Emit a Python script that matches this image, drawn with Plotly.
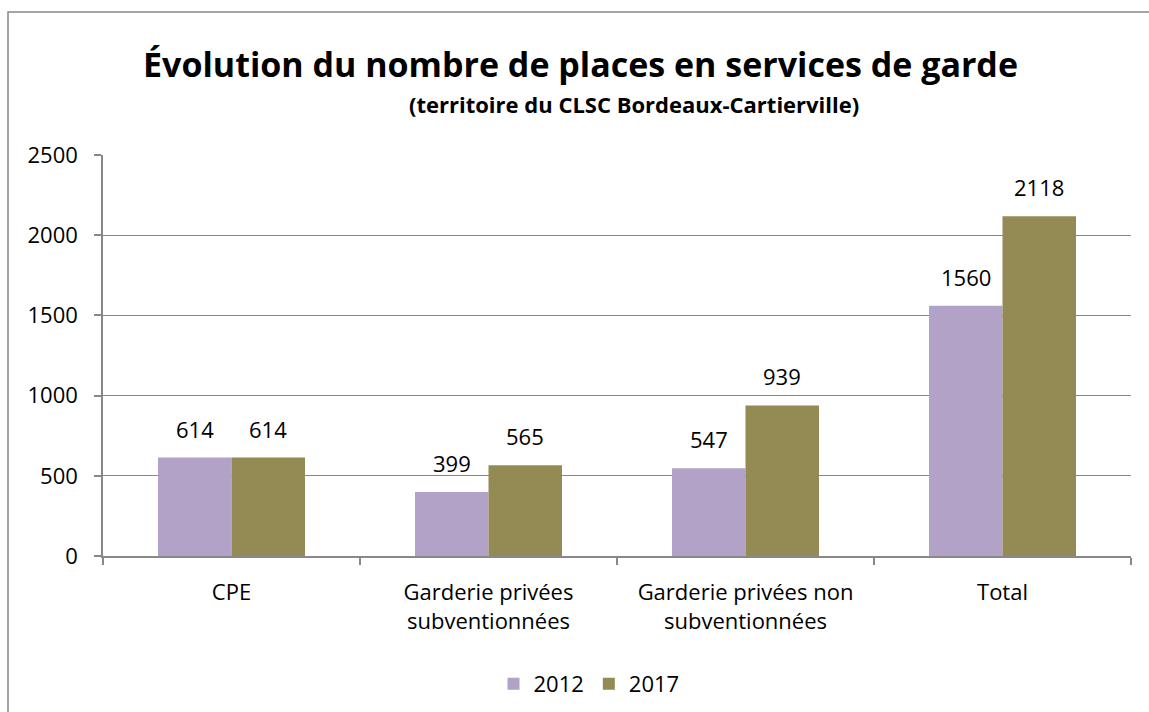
import plotly.graph_objects as go

categories = ["CPE", "Garderie privées<br>subventionnées", "Garderie privées non<br>subventionnées", "Total"]
series_names = ["2012", "2017"]
values_2012 = [614, 399, 547, 1560]
values_2017 = [614, 565, 939, 2118]
y_ticks = [0, 500, 1000, 1500, 2000, 2500]

colors = ["#B3A2C7", "#948A54"]
FONT = "Open Sans, Noto Sans, Liberation Sans, sans-serif"

W, H = 1149, 712
L, R, T, B = 103, 18, 155, 156
pw = W - L - R
ph = H - T - B
BARGAP = 0.428
bar_px = pw / len(categories) * (1 - BARGAP) / 2

def px_x(x):
    return (x - L) / pw

def px_y(y):
    return (H - B - y) / ph

fig = go.Figure()
annotations = []
for i, (name, vals, col) in enumerate(zip(series_names, [values_2012, values_2017], colors)):
    fig.add_trace(go.Bar(
        name=name, x=categories, y=vals, marker_color=col,
        marker_line_width=0,
    ))
    shift = (i - 0.5) * bar_px
    for c, v in zip(categories, vals):
        annotations.append(dict(
            x=c, y=v, xref="x", yref="y", text=str(v), showarrow=False,
            xanchor="center", yanchor="bottom", xshift=shift, yshift=12,
            font=dict(size=22, color="#000000", family=FONT),
        ))

annotations += [
    dict(text="<b>Évolution du nombre de places en services de garde</b>",
         x=px_x(580), y=px_y(64), xref="paper", yref="paper", xanchor="center", yanchor="middle",
         showarrow=False, font=dict(size=34, family=FONT)),
    dict(text="<b>(territoire du CLSC Bordeaux-Cartierville)</b>",
         x=px_x(634), y=px_y(104), xref="paper", yref="paper", xanchor="center", yanchor="middle",
         showarrow=False, font=dict(size=22, family=FONT)),
]

fig.update_layout(
    width=W, height=H,
    margin=dict(l=L, r=R, t=T, b=B, autoexpand=False),
    paper_bgcolor="white", plot_bgcolor="white",
    barmode="group", bargap=BARGAP, bargroupgap=0,
    font=dict(family=FONT, size=22, color="#000000"),
    showlegend=True,
    legend=dict(orientation="h", x=px_x(589), xanchor="center", y=px_y(684), yanchor="middle",
                font=dict(size=22), traceorder="normal", itemwidth=30),
    annotations=annotations,
    shapes=[
        dict(type="rect", xref="paper", yref="paper",
             x0=px_x(8), x1=px_x(1160), y0=px_y(730), y1=px_y(12),
             line=dict(color="#888888", width=1.5), fillcolor="rgba(0,0,0,0)", layer="below"),
    ],
)
fig.update_xaxes(
    showline=True, linecolor="#888888", linewidth=1.5,
    ticks="outside", tickson="boundaries", ticklen=7, tickcolor="#888888", tickwidth=1.5,
    tickfont=dict(size=22), showgrid=False, ticklabelstandoff=16, automargin=False,
)
fig.update_yaxes(
    range=[0, 2500], tickvals=y_ticks, ticktext=[str(t) for t in y_ticks],
    showline=True, linecolor="#888888", linewidth=1.5,
    ticks="outside", ticklen=7, tickcolor="#888888", tickwidth=1.5,
    showgrid=True, gridcolor="#888888", gridwidth=1.2,
    tickfont=dict(size=22), zeroline=False, ticklabelstandoff=12, automargin=False,
)

fig.write_html("out.html", config={"displayModeBar": False},
               post_script="document.body.style.margin='0px';document.body.style.overflow='hidden';")
